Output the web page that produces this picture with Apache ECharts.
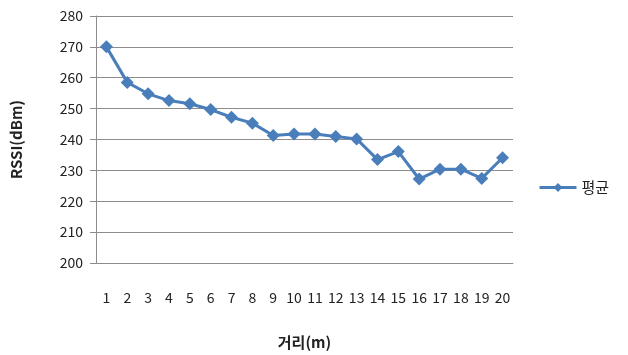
<!DOCTYPE html>
<html><head><meta charset="utf-8">
<script src="https://cdn.jsdelivr.net/npm/echarts@6/dist/echarts.min.js"></script>
<style>html,body{margin:0;padding:0;background:#fff}#c{width:628px;height:355px}</style>
</head><body><div id="c"></div>
<script>
const categories = ['1','2','3','4','5','6','7','8','9','10','11','12','13','14','15','16','17','18','19','20'];
const avgValues = [270, 258.5, 254.8, 252.6, 251.6, 249.7, 247.2, 245.3, 241.3, 241.8, 241.8, 241.0, 240.2, 233.5, 236.1, 227.2, 230.4, 230.4, 227.4, 234.1];
const seriesName = '평균';
const yTicks = {min: 200, max: 280, interval: 10};
const font = '"Noto Sans CJK KR", "Noto Sans", sans-serif';
const chart = echarts.init(document.getElementById('c'));
chart.setOption({
  animation: false,
  backgroundColor: '#fff',
  grid: {left: 96, right: 115, top: 16, bottom: 92},
  legend: {
    show: true, left: 533, top: 175, orient: 'vertical',
    itemWidth: 37, itemHeight: 11, itemGap: 4, padding: 5,
    lineStyle: {width: 3},
    textStyle: {fontFamily: font, fontSize: 15, color: '#222', padding: [2, 0, 0, 0]},
    data: [seriesName]
  },
  xAxis: {
    type: 'category', data: categories, boundaryGap: true,
    name: '거리(m)', nameLocation: 'middle', nameGap: 72,
    nameTextStyle: {fontFamily: font, fontSize: 15, fontWeight: 'bold', color: '#222'},
    axisLine: {show: true, lineStyle: {color: '#8c8c8c', width: 1}},
    axisTick: {show: false},
    axisLabel: {fontFamily: font, fontSize: 14, color: '#222', margin: 28, interval: 0}
  },
  yAxis: {
    type: 'value', min: yTicks.min, max: yTicks.max, interval: yTicks.interval,
    name: 'RSSI(dBm)', nameLocation: 'middle', nameGap: 72,
    nameTextStyle: {fontFamily: font, fontSize: 15, fontWeight: 'bold', color: '#222'},
    axisLine: {show: true, lineStyle: {color: '#8c8c8c', width: 1}},
    axisTick: {show: true, length: 6, lineStyle: {color: '#8c8c8c'}},
    axisLabel: {fontFamily: font, fontSize: 14, color: '#222', margin: 13},
    splitLine: {show: true, lineStyle: {color: '#8c8c8c', width: 1}}
  },
  series: [{
    name: seriesName, type: 'line', data: avgValues,
    symbol: 'diamond', symbolSize: 13,
    lineStyle: {color: '#4A7EBB', width: 3},
    itemStyle: {color: '#4A7EBB'}
  }]
});
</script></body></html>
